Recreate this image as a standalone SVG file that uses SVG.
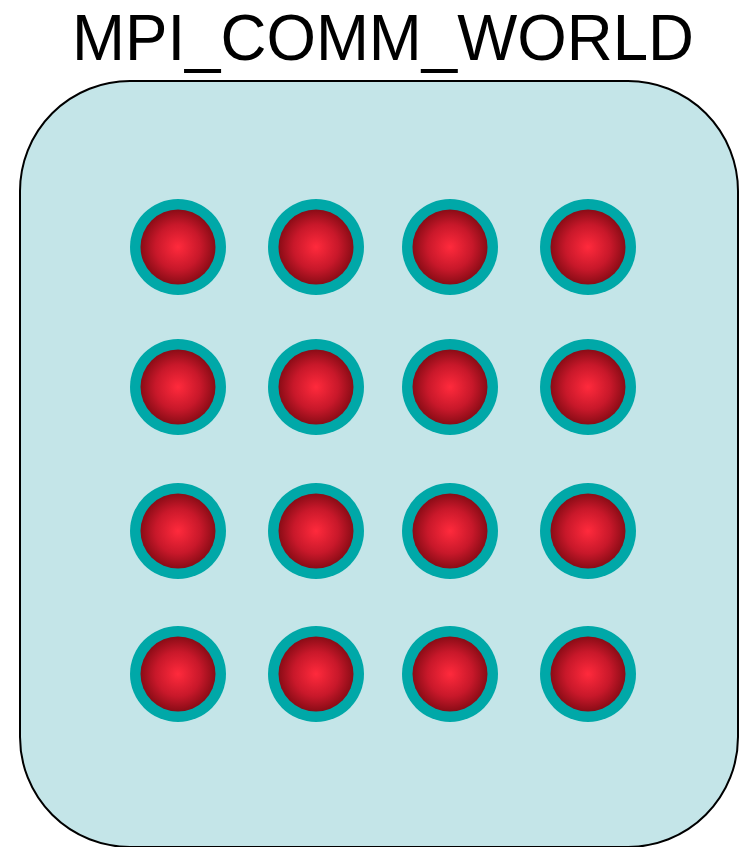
<svg xmlns="http://www.w3.org/2000/svg" xmlns:xlink="http://www.w3.org/1999/xlink" width="740" height="847" viewBox="0 0 740 847">
  <style>
    .title { font-family: "Liberation Sans", Arial, sans-serif; font-size: 65px; fill: #000; }
    .frame { fill: #C4E5E8; stroke: #000; stroke-width: 2; }
    .ring { fill: #00A8A8; }
    .core { fill: url(#redGrad); }
  </style>
  <defs>
    <radialGradient id="redGrad" cx="50%" cy="50%" r="50%">
      <stop offset="0" stop-color="#FF2A3C"/>
      <stop offset="0.6" stop-color="#C8182A"/>
      <stop offset="1" stop-color="#8A0C16"/>
    </radialGradient>
    <g id="proc">
      <circle class="ring" r="48"/>
      <circle class="core" r="37.5"/>
    </g>
  </defs>
  <rect width="740" height="847" fill="#fff"/>
  <text class="title" x="383" y="60" text-anchor="middle" textLength="622" lengthAdjust="spacingAndGlyphs">MPI_COMM_WORLD</text>
  <g id="comm-world">
    <rect class="frame" x="20" y="81" width="718" height="766" rx="110" ry="110"/>
  </g>
  <g id="processes">
    <g id="p0"><use xlink:href="#proc" x="178" y="247"/></g>
    <g id="p1"><use xlink:href="#proc" x="316" y="247"/></g>
    <g id="p2"><use xlink:href="#proc" x="450" y="247"/></g>
    <g id="p3"><use xlink:href="#proc" x="588" y="247"/></g>
    <g id="p4"><use xlink:href="#proc" x="178" y="387"/></g>
    <g id="p5"><use xlink:href="#proc" x="316" y="387"/></g>
    <g id="p6"><use xlink:href="#proc" x="450" y="387"/></g>
    <g id="p7"><use xlink:href="#proc" x="588" y="387"/></g>
    <g id="p8"><use xlink:href="#proc" x="178" y="531"/></g>
    <g id="p9"><use xlink:href="#proc" x="316" y="531"/></g>
    <g id="p10"><use xlink:href="#proc" x="450" y="531"/></g>
    <g id="p11"><use xlink:href="#proc" x="588" y="531"/></g>
    <g id="p12"><use xlink:href="#proc" x="178" y="674"/></g>
    <g id="p13"><use xlink:href="#proc" x="316" y="674"/></g>
    <g id="p14"><use xlink:href="#proc" x="450" y="674"/></g>
    <g id="p15"><use xlink:href="#proc" x="588" y="674"/></g>
  </g>
  <g id="connectors"/>
</svg>
